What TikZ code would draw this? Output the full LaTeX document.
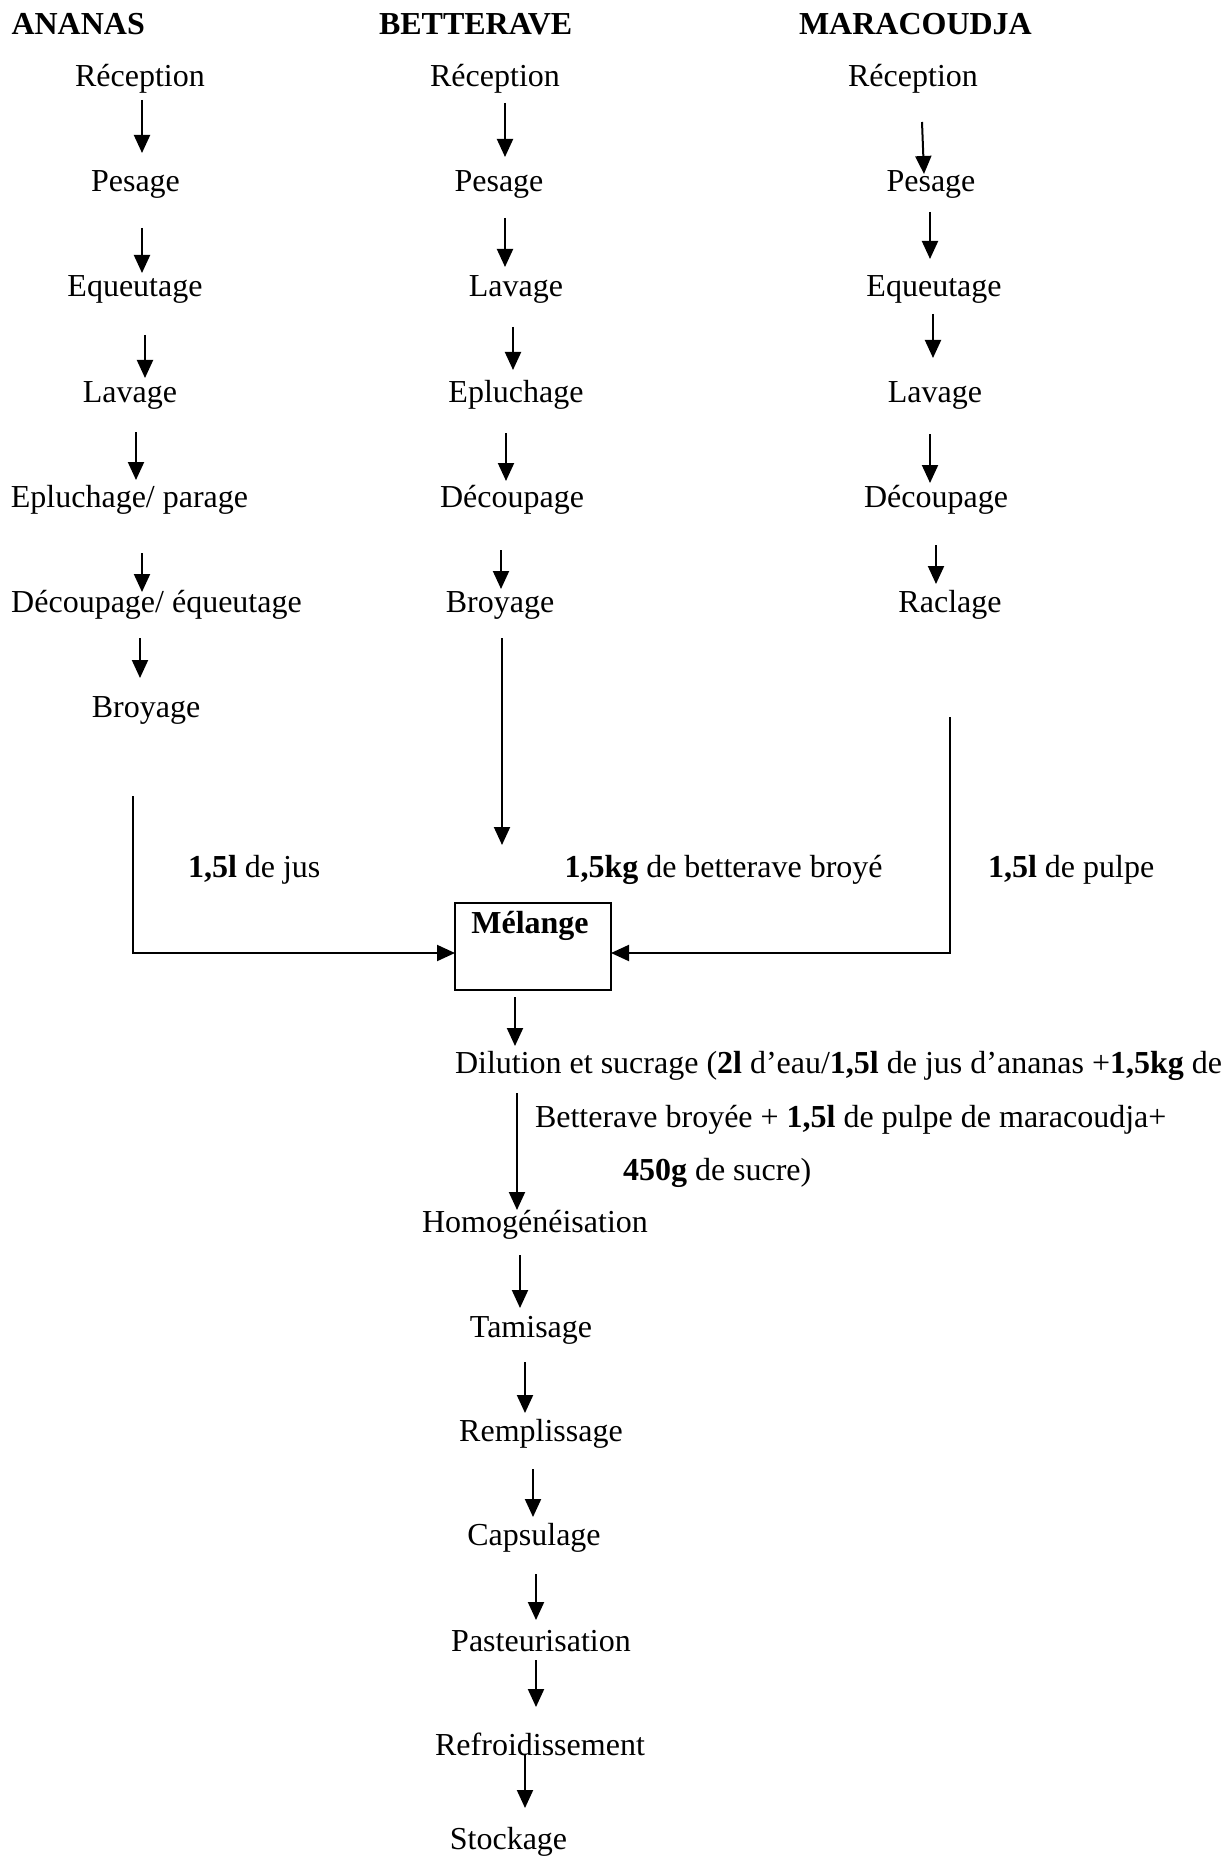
\documentclass[tikz,border=0pt]{standalone}
\usepackage{fontspec}
\setmainfont{Liberation Serif}
\usetikzlibrary{arrows.meta,calc}
\begin{document}
\begin{tikzpicture}[x=0.5pt,y=-0.5pt,
  every node/.style={inner sep=0pt, outer sep=0pt, font=\fontsize{16pt}{19pt}\selectfont},
  txt/.style={anchor=base},
  txtw/.style={anchor=base west},
  hdr/.style={anchor=base west, font=\fontsize{16pt}{19pt}\selectfont\bfseries},
  arr/.style={-{Triangle[length=9pt,width=8pt]}, line width=1pt},
  box/.style={draw, line width=0.8pt, minimum width=78pt, minimum height=43.5pt}]
\useasboundingbox (0,0) rectangle (1223,1856);

% headers
\node[hdr] (hA) at (11.5,35) {ANANAS};
\node[hdr] (hB) at (379,35) {BETTERAVE};
\node[hdr] (hM) at (799,35) {MARACOUDJA};

% Ananas column
\node[txt] (a1) at (140,87) {Réception};
\node[txt] (a2) at (135.5,192) {Pesage};
\node[txt] (a3) at (135,297) {Equeutage};
\node[txt] (a4) at (130,402) {Lavage};
\node[txt] (a5) at (129.5,507) {Epluchage/ parage};
\node[txt] (a6) at (156.5,612) {Découpage/ équeutage};
\node[txt] (a7) at (146,717) {Broyage};

% Betterave column
\node[txt] (b1) at (495,87) {Réception};
\node[txt] (b2) at (499,192) {Pesage};
\node[txt] (b3) at (516,297) {Lavage};
\node[txt] (b4) at (516,402) {Epluchage};
\node[txt] (b5) at (512,507) {Découpage};
\node[txt] (b6) at (500,612) {Broyage};

% Maracoudja column
\node[txt] (m1) at (913,87) {Réception};
\node[txt] (m2) at (931,192) {Pesage};
\node[txt] (m3) at (934,297) {Equeutage};
\node[txt] (m4) at (935,402) {Lavage};
\node[txt] (m5) at (936,507) {Découpage};
\node[txt] (m6) at (950,612) {Raclage};

% quantity labels
\node[txtw] (qA) at (188,877) {\textbf{1,5l} de jus};
\node[txtw] (qB) at (564.5,877) {\textbf{1,5kg} de betterave broyé};
\node[txtw] (qM) at (988,877) {\textbf{1,5l} de pulpe};

% Melange box
\node[box] (mel) at (533,946.5) {};
\node[txt, font=\fontsize{16pt}{19pt}\selectfont\bfseries] (meltxt) at (530,933) {Mélange};

% dilution text
\node[txtw] (d1) at (455,1073) {Dilution et sucrage (\textbf{2l} d’eau/\textbf{1,5l} de jus d’ananas +\textbf{1,5kg} de};
\node[txtw] (d2) at (535,1127) {Betterave broyée + \textbf{1,5l} de pulpe de maracoudja+};
\node[txtw] (d3) at (623,1180) {\textbf{450g} de sucre)};

% lower chain
\node[txt] (h) at (535,1232) {Homogénéisation};
\node[txt] (t) at (531,1337) {Tamisage};
\node[txt] (r) at (541,1441) {Remplissage};
\node[txt] (c) at (534,1545) {Capsulage};
\node[txt] (p) at (541,1651) {Pasteurisation};
\node[txt] (f) at (540,1755) {Refroidissement};
\node[txt] (s) at (508.5,1849) {Stockage};

% Ananas arrows
\draw[arr] ($(a1.base)+(2,13)$) -- ($(a2.base)+(6.5,-39)$);
\draw[arr] ($(a2.base)+(6.5,36)$) -- ($(a3.base)+(7,-24)$);
\draw[arr] ($(a3.base)+(10,38)$) -- ($(a4.base)+(15,-24)$);
\draw[arr] ($(a4.base)+(6,30)$) -- ($(a5.base)+(6.5,-27)$);
\draw[arr] ($(a5.base)+(12.5,46)$) -- ($(a6.base)+(-14.5,-20)$);
\draw[arr] ($(a6.base)+(-16.5,26)$) -- ($(a7.base)+(-6,-39)$);

% Betterave arrows
\draw[arr] ($(b1.base)+(10,16)$) -- ($(b2.base)+(6,-35)$);
\draw[arr] ($(b2.base)+(6,26)$) -- ($(b3.base)+(-11,-30)$);
\draw[arr] ($(b3.base)+(-3,30)$) -- ($(b4.base)+(-3,-32)$);
\draw[arr] ($(b4.base)+(-10,31)$) -- ($(b5.base)+(-6,-26)$);
\draw[arr] ($(b5.base)+(-11,43)$) -- ($(b6.base)+(1,-23)$);
\draw[arr] ($(b6.base)+(2,26)$) -- ($(mel.north)+(-31,-58)$);

% Maracoudja arrows
\draw[arr] ($(m1.base)+(9,35)$) -- ($(m2.base)+(-7,-18)$);
\draw[arr] ($(m2.base)+(-1,20)$) -- ($(m3.base)+(-4,-38)$);
\draw[arr] ($(m3.base)+(-1,17)$) -- ($(m4.base)+(-2,-44)$);
\draw[arr] ($(m4.base)+(-5,32)$) -- ($(m5.base)+(-6,-24)$);
\draw[arr] ($(m5.base)+(0,38)$) -- ($(m6.base)+(-14,-28)$);

% feeds into Melange
\draw[arr] ($(a7.base)+(-13,79)$) |- ($(mel.west)+(0,6.5)$);
\draw[arr] ($(m6.base)+(0,105)$) |- ($(mel.east)+(0,6.5)$);

% Melange down
\draw[arr] ($(mel.south)+(-18,7)$) -- ($(d1.base west)+(60,-27)$);
\draw[arr] ($(d1.base west)+(62,20)$) -- ($(h.base)+(-18,-22)$);
\draw[arr] ($(h.base)+(-15,23)$) -- ($(t.base)+(-11,-29)$);
\draw[arr] ($(t.base)+(-6,25)$) -- ($(r.base)+(-16,-28)$);
\draw[arr] ($(r.base)+(-8,28)$) -- ($(c.base)+(-1,-28)$);
\draw[arr] ($(c.base)+(2,29)$) -- ($(p.base)+(-5,-31)$);
\draw[arr] ($(p.base)+(-5,9)$) -- ($(f.base)+(-4,-48)$);
\draw[arr] ($(f.base)+(-15,0)$) -- ($(s.base)+(16.5,-41)$);
\end{tikzpicture}
\end{document}
